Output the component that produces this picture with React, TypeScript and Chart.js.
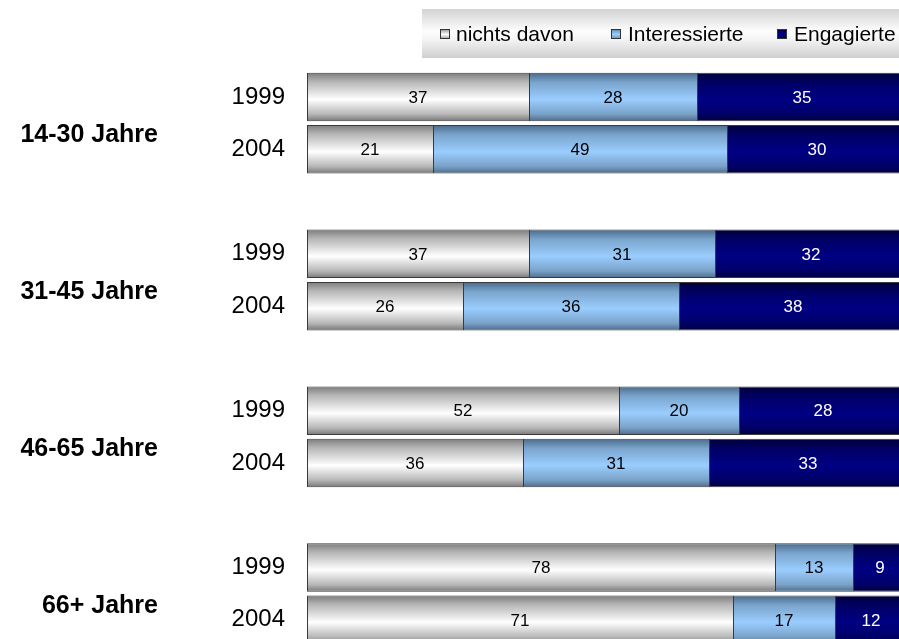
import React, { useEffect, useRef } from "react";
import { Chart, registerables } from "chart.js";

Chart.register(...registerables);

const groups = ["14-30 Jahre", "31-45 Jahre", "46-65 Jahre", "66+ Jahre"];
const years = ["1999", "2004"];
const seriesNames = ["nichts davon", "Interessierte", "Engagierte"];
const nichtsDavon = [37, 21, 37, 26, 52, 36, 78, 71];
const interessierte = [28, 49, 31, 36, 20, 31, 13, 17];
const engagierte = [35, 30, 32, 38, 28, 33, 9, 12];

const FONT = "'Liberation Sans', Arial, Helvetica, sans-serif";
const BAR_H = 48.5;

// slot layout: 1999, 2004, gap per group (no trailing gap)
const slotLabels: string[] = [];
groups.forEach((_, g) => {
  slotLabels.push(years[0], years[1]);
  if (g < groups.length - 1) slotLabels.push("");
});
function toSlots(arr: number[]): (number | null)[] {
  const out: (number | null)[] = [];
  groups.forEach((_, g) => {
    out.push(arr[g * 2], arr[g * 2 + 1]);
    if (g < groups.length - 1) out.push(null);
  });
  return out;
}

type Stops = [number, string][];
const grayStops: Stops = [
  [0, "#7c7c7c"],
  [0.18, "#b4b4b4"],
  [0.55, "#ffffff"],
  [0.85, "#b8b8b8"],
  [1, "#777777"],
];
const blueStops: Stops = [
  [0, "#4a6a8c"],
  [0.2, "#7aa4cc"],
  [0.55, "#9acdff"],
  [0.85, "#7aa2c8"],
  [1, "#4d6b8a"],
];
const navyStops: Stops = [
  [0, "#00003c"],
  [0.25, "#00006a"],
  [0.55, "#000084"],
  [0.85, "#000068"],
  [1, "#00003a"],
];
const solids = ["#d8d8d8", "#99ccff", "#000080"];
const allStops = [grayStops, blueStops, navyStops];

function makeBg(idx: number) {
  return (ctx: any) => {
    const chart = ctx.chart;
    const y = chart.scales && chart.scales.y;
    if (!y || ctx.type !== "data" || ctx.dataIndex == null) return solids[idx];
    const c = y.getPixelForValue(ctx.dataIndex);
    if (!isFinite(c)) return solids[idx];
    const g = chart.ctx.createLinearGradient(0, c - BAR_H / 2, 0, c + BAR_H / 2);
    allStops[idx].forEach(([o, col]) => g.addColorStop(o, col));
    return g;
  };
}

const overlayPlugin = {
  id: "overlay",
  beforeDraw(chart: any) {
    const ctx = chart.ctx;
    ctx.save();
    // legend background
    const lx = 422, ly = 9, lw = 490, lh = 49;
    const lg = ctx.createLinearGradient(0, ly, 0, ly + lh);
    lg.addColorStop(0, "#d2d2d2");
    lg.addColorStop(0.45, "#fdfdfd");
    lg.addColorStop(0.6, "#f6f6f6");
    lg.addColorStop(1, "#cfcfcf");
    ctx.fillStyle = lg;
    ctx.fillRect(lx, ly, lw, lh);
    const boxX = [440, 611, 777];
    const textX = [456, 628, 794];
    const cy = 34;
    seriesNames.forEach((name, i) => {
      const bg = ctx.createLinearGradient(0, cy - 5, 0, cy + 5);
      allStops[i].forEach(([o, col]: [number, string]) => bg.addColorStop(o, col));
      ctx.fillStyle = bg;
      ctx.fillRect(boxX[i], cy - 5, 10, 10);
      ctx.strokeStyle = "#333";
      ctx.lineWidth = 1;
      ctx.strokeRect(boxX[i] + 0.5, cy - 4.5, 9, 9);
      ctx.fillStyle = "#000";
      ctx.font = `21px ${FONT}`;
      ctx.textAlign = "left";
      ctx.textBaseline = "middle";
      ctx.fillText(name, textX[i], cy + 1);
    });
    // group labels
    const y = chart.scales.y;
    ctx.font = `bold 25px ${FONT}`;
    ctx.textAlign = "right";
    ctx.textBaseline = "middle";
    ctx.fillStyle = "#000";
    groups.forEach((g, i) => {
      const a = y.getPixelForValue(i * 3);
      const b = y.getPixelForValue(i * 3 + 1);
      ctx.fillText(g, 158, (a + b) / 2 + 12);
    });
    ctx.restore();
  },
  afterDatasetsDraw(chart: any) {
    const ctx = chart.ctx;
    ctx.save();
    ctx.font = `17px ${FONT}`;
    ctx.textAlign = "center";
    ctx.textBaseline = "middle";
    chart.data.datasets.forEach((ds: any, di: number) => {
      const meta = chart.getDatasetMeta(di);
      meta.data.forEach((el: any, i: number) => {
        const v = ds.data[i];
        if (v == null) return;
        ctx.fillStyle = di === 2 ? "#ffffff" : "#000000";
        ctx.fillText(String(v), (el.x + el.base) / 2, el.y + 1);
      });
    });
    ctx.restore();
  },
};

export default function App() {
  const ref = useRef<HTMLCanvasElement | null>(null);
  useEffect(() => {
    document.body.style.margin = "0";
    const canvas = ref.current;
    if (!canvas) return;
    const series = [nichtsDavon, interessierte, engagierte];
    const chart = new Chart(canvas, {
      type: "bar",
      data: {
        labels: slotLabels,
        datasets: series.map((arr, i) => ({
          label: seriesNames[i],
          data: toSlots(arr),
          backgroundColor: makeBg(i),
          borderColor: "#3a3a3a",
          borderWidth: { top: 1, bottom: 1, left: 1, right: 0 },
          borderSkipped: false,
          barPercentage: BAR_H / 52.3,
          categoryPercentage: 1,
        })),
      },
      options: {
        indexAxis: "y",
        responsive: false,
        animation: false,
        devicePixelRatio: 1,
        layout: { padding: { top: 70.85, left: 0, right: 0, bottom: 0 } },
        plugins: { legend: { display: false }, tooltip: { enabled: false } },
        scales: {
          x: { stacked: true, min: 0, max: 100, display: false },
          y: {
            stacked: true,
            grid: { display: false, drawTicks: false },
            border: { display: false },
            afterFit: (scale: any) => {
              scale.width = 307;
              scale.paddingTop = 0;
              scale.paddingBottom = 0;
            },
            ticks: {
              padding: 22,
              color: "#000",
              font: { family: FONT, size: 24 },
              autoSkip: false,
            },
          },
        },
      },
      plugins: [overlayPlugin],
    } as any);
    return () => chart.destroy();
  }, []);
  return (
    <div style={{ width: 899, height: 639, overflow: "hidden", position: "relative", background: "#fff" }}>
      <canvas ref={ref} width={907} height={646} style={{ display: "block" }} />
    </div>
  );
}
